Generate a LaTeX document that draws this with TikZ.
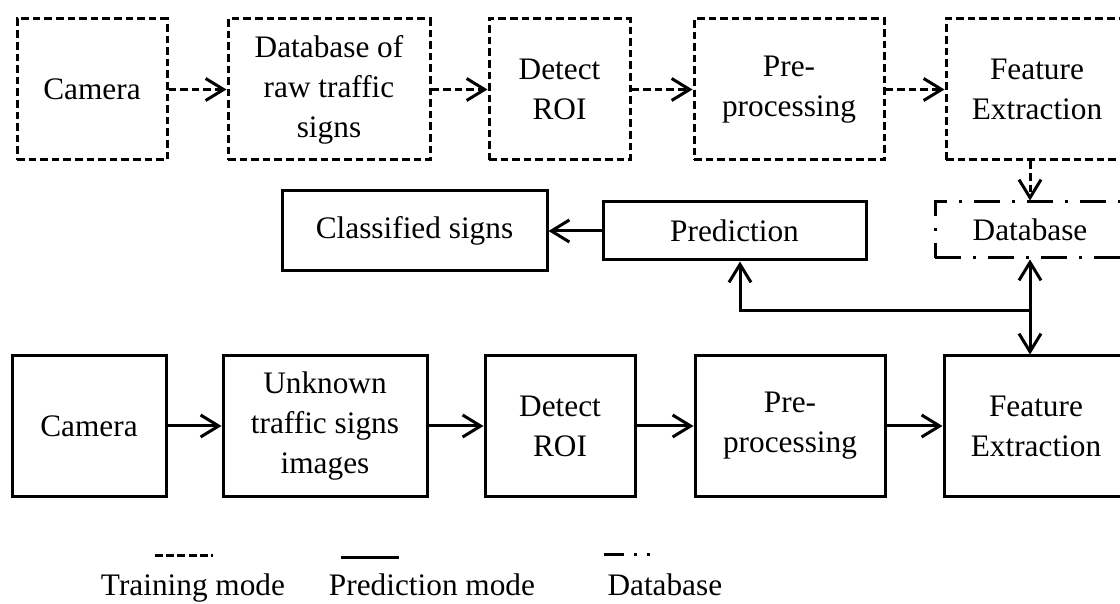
\documentclass[tikz,border=0pt]{standalone}
\usepackage{fontspec}
\setmainfont{Liberation Serif}
\usetikzlibrary{arrows.meta}
\begin{document}
\begin{tikzpicture}[x=0.5pt,y=-0.5pt,
  line width=1.5pt,
  txt/.style={font=\fontsize{15.65}{20}\selectfont, align=center},
  box/.style={txt, draw, rectangle, inner sep=0pt},
  tbox/.style={box, dash pattern=on 3.8pt off 2pt},
  pbox/.style={box},
  dbbox/.style={box, dash pattern=on 13pt off 6pt on 1.5pt off 6pt},
  tarrow/.style={dash pattern=on 3.8pt off 2pt, -{Straight Barb[length=9pt,width=11pt,line width=1.5pt]}},
  parrow/.style={-{Straight Barb[length=9pt,width=11pt,line width=1.5pt]}},
  biarrow/.style={{Straight Barb[length=9pt,width=11pt,line width=1.5pt]}-{Straight Barb[length=9pt,width=11pt,line width=1.5pt]}},
  lbl/.style={font=\fontsize{15.65}{20}\selectfont, anchor=base, inner sep=0pt}
]
\useasboundingbox (0,0) rectangle (1120,604);
\clip (0,0) rectangle (1120,604);

% top row (training)
\node[tbox, minimum width=75pt, minimum height=70.5pt] (cam1) at (92,89.5) {Camera};
\node[tbox, minimum width=101pt, minimum height=70.5pt] (raw) at (329,89.5) {Database of\\raw traffic\\signs};
\node[tbox, minimum width=70.5pt, minimum height=70.5pt] (roi1) at (559.5,89.5) {Detect\\ROI};
\node[tbox, minimum width=95pt, minimum height=70.5pt] (pre1) at (789,89.5) {Pre-\\processing};
\node[tbox, minimum width=91pt, minimum height=70.5pt] (fe1) at (1037,89.5) {Feature\\Extraction};

% middle row
\node[pbox, minimum width=132.5pt, minimum height=40pt] (cls) at (414.5,231) {Classified signs};
\node[pbox, minimum width=131.5pt, minimum height=29pt] (pred) at (734.5,231) {Prediction};
\node[dbbox, minimum width=95pt, minimum height=28pt] (db) at (1030,230) {Database};

% bottom row (prediction)
\node[pbox, minimum width=77pt, minimum height=70pt] (cam2) at (89,426) {Camera};
\node[pbox, minimum width=102pt, minimum height=70pt] (unk) at (325,426) {Unknown\\traffic signs\\images};
\node[pbox, minimum width=75pt, minimum height=70pt] (roi2) at (560,426) {Detect\\ROI};
\node[pbox, minimum width=95pt, minimum height=70pt] (pre2) at (790,426) {Pre-\\processing};
\node[pbox, minimum width=92pt, minimum height=70pt] (fe2) at (1036,426) {Feature\\Extraction};

% training connectors
\draw[tarrow] (cam1.east) -- (raw.west);
\draw[tarrow] (raw.east) -- (roi1.west);
\draw[tarrow] (roi1.east) -- (pre1.west);
\draw[tarrow] (pre1.east) -- (fe1.west);
\draw[tarrow] (db.north |- fe1.south) -- (db.north);

% prediction connectors
\draw[parrow] (cam2.east) -- (unk.west);
\draw[parrow] (unk.east) -- (roi2.west);
\draw[parrow] (roi2.east) -- (pre2.west);
\draw[parrow] (pre2.east) -- (fe2.west);
\draw[biarrow] (db.south) -- (db.south |- fe2.north);
\coordinate (br) at (740,311);
\draw[parrow] (db.south |- br) -- (br) -- (br |- pred.south);
\draw[parrow] (pred.west) -- (cls.east);

% legend
\coordinate (l1a) at (155,555); \coordinate (l1b) at (213,555);
\coordinate (l2a) at (341,557); \coordinate (l2b) at (399,557);
\coordinate (l3a) at (604,554); \coordinate (l3b) at (662,554);
\draw[dash pattern=on 4pt off 1.6pt] (l1a) -- (l1b);
\draw (l2a) -- (l2b);
\draw[dash pattern=on 10pt off 5pt on 1.5pt off 5pt on 1.5pt off 10pt] (l3a) -- (l3b);
\node[lbl] (t1) at (193,595) {Training mode};
\node[lbl] (t2) at (432,595) {Prediction mode};
\node[lbl, anchor=base west] (t3) at (606,595) {Database};
\end{tikzpicture}
\end{document}
